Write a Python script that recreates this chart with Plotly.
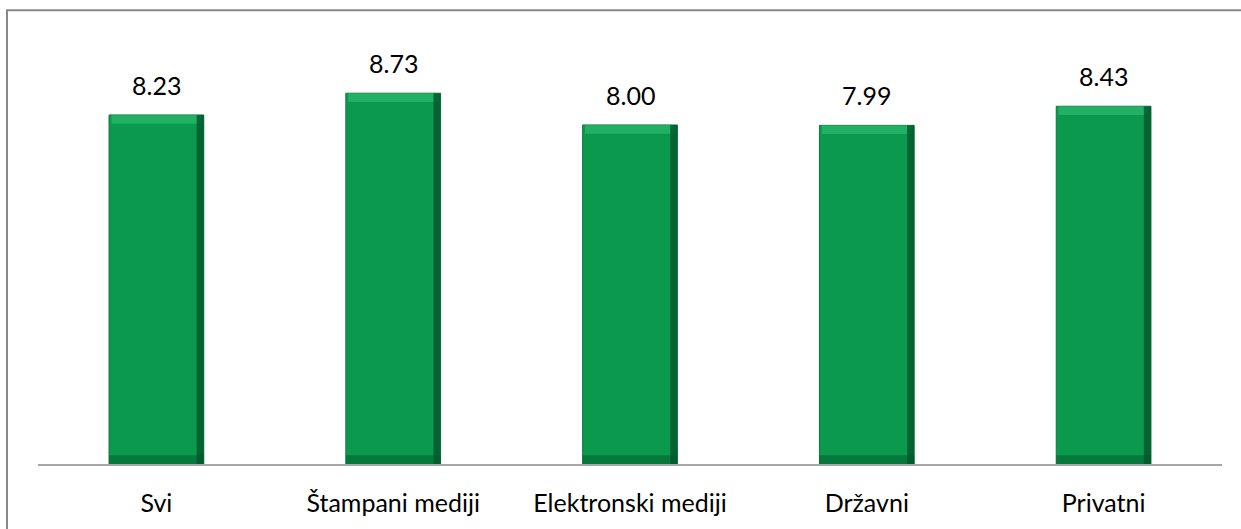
import plotly.graph_objects as go

categories = ["Svi", "Štampani mediji", "Elektronski mediji", "Državni", "Privatni"]
values = [8.23, 8.73, 8.00, 7.99, 8.43]
labels = ["8.23", "8.73", "8.00", "7.99", "8.43"]

FONT = "Lato"
BAR_W = 0.4
MAIN = "#0b9a4d"
DARK = "#03552a"
LIGHT = "#3fcd80"

fig = go.Figure()
# main bar body
fig.add_trace(go.Bar(x=categories, y=values, width=BAR_W, marker=dict(color=MAIN, line=dict(color="#0a7a3c", width=1)),
                     hoverinfo="x+y"))
# top bevel highlight
top_h = 0.2
fig.add_trace(go.Bar(x=categories, y=[top_h] * len(values), base=[v - top_h for v in values], width=BAR_W - 0.02,
                     marker=dict(color=LIGHT, opacity=0.45, line=dict(width=0)), hoverinfo="skip"))
# right dark edge
fig.add_trace(go.Bar(x=categories, y=values, width=0.03, offset=BAR_W / 2 - 0.03,
                     marker=dict(color=DARK, opacity=0.8, line=dict(width=0)), hoverinfo="skip"))
# bottom dark edge
fig.add_trace(go.Bar(x=categories, y=[0.2] * len(values), base=[0.2] * len(values), width=BAR_W,
                     marker=dict(color=DARK, opacity=0.5, line=dict(width=0)), hoverinfo="skip"))

for c, v, t in zip(categories, values, labels):
    fig.add_annotation(x=c, y=v, text=t, showarrow=False, yanchor="bottom", yshift=13,
                       font=dict(family=FONT, size=25, color="#000000"))

fig.update_layout(
    width=1241, height=529,
    barmode="overlay",
    showlegend=False,
    paper_bgcolor="white", plot_bgcolor="white",
    margin=dict(l=38, r=19, t=38, b=62),
    font=dict(family=FONT, size=25, color="#000000"),
    xaxis=dict(showline=True, linecolor="#a6a6a6", linewidth=2, ticks="", showgrid=False,
               ticklabelstandoff=16, tickfont=dict(family=FONT, size=25, color="#000000")),
    yaxis=dict(range=[0.2, 10], visible=False, showgrid=False),
    shapes=[dict(type="rect", xref="paper", yref="paper",
                 x0=-31 / 1184, x1=1.1, y0=-0.5, y1=1 + 28 / 429,
                 line=dict(color="#888888", width=2), fillcolor="rgba(0,0,0,0)", layer="below")],
)

fig.write_html("out.html", config={"displayModeBar": False},
               post_script="document.body.style.margin='0';document.body.style.overflow='hidden';")
